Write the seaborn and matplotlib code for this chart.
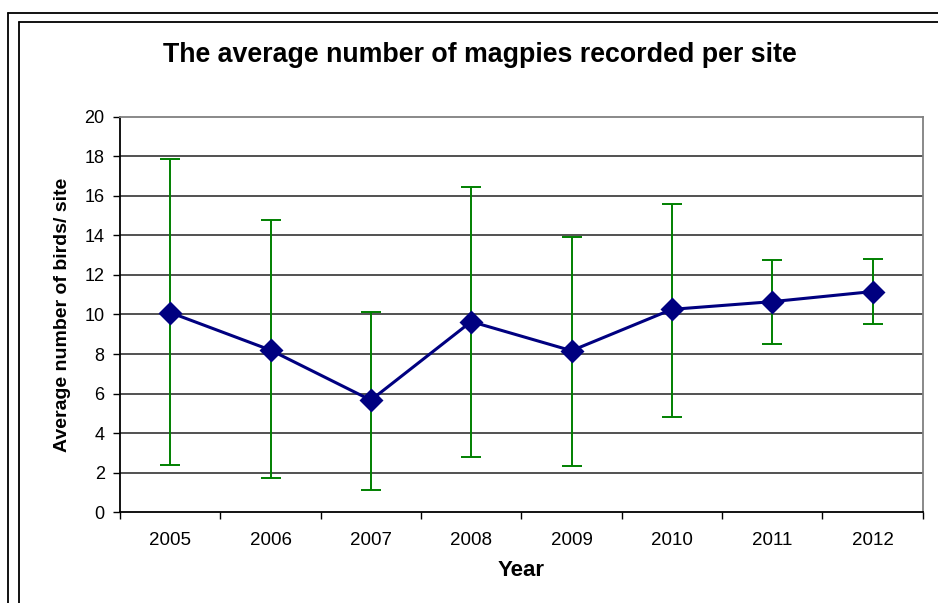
import numpy as np
import pandas as pd
import matplotlib
matplotlib.use("Agg")
import matplotlib.pyplot as plt
from matplotlib.lines import Line2D
import seaborn as sns

years = ["2005", "2006", "2007", "2008", "2009", "2010", "2011", "2012"]
means = [10.1, 8.2, 5.67, 9.64, 8.17, 10.26, 10.65, 11.16]
upper = [17.87, 14.78, 10.11, 16.44, 13.94, 15.61, 12.74, 12.81]
lower = [2.41, 1.74, 1.15, 2.80, 2.33, 4.83, 8.52, 9.50]
yticks = [0, 2, 4, 6, 8, 10, 12, 14, 16, 18, 20]

sns.set_style("white")
plt.rcParams['font.family'] = ['Liberation Sans', 'DejaVu Sans']
plt.rcParams['text.color'] = 'black'
plt.rcParams['axes.labelcolor'] = 'black'
plt.rcParams['xtick.color'] = 'black'
plt.rcParams['ytick.color'] = 'black'

fig = plt.figure(figsize=(9.38, 6.03), dpi=100)
ax = fig.add_axes([120/938, 1-512.3/603, (922.7-120)/938, (512.3-116.7)/603])

df = pd.DataFrame({"Year": years, "Mean": means})
xpos = np.arange(len(years))

err_lo = np.array(means) - np.array(lower)
err_hi = np.array(upper) - np.array(means)
ax.errorbar(xpos, means, yerr=[err_lo, err_hi], fmt='none', ecolor='#008000',
            elinewidth=1.4, capsize=7, capthick=1.4, zorder=3)

n_before = len(ax.lines)
sns.pointplot(data=df, x="Year", y="Mean", color="#000080", markers="D",
              linestyles="-", errorbar=None, ax=ax)
for ln in ax.lines[n_before:]:
    ln.set_linewidth(2.2)
    ln.set_zorder(5)
    ln.set_markersize(10)

ax.set_ylim(0, 20)
ax.set_xlim(-0.5, len(years) - 0.5)
ax.set_yticks(yticks)
ax.set_yticklabels([str(t) for t in yticks], fontsize=13)
ax.set_xticks(xpos)
ax.set_xticklabels(years, fontsize=13.5)
ax.set_xticks(np.arange(-0.5, len(years)), minor=True)
ax.tick_params(axis='x', which='major', length=0, pad=14)
ax.tick_params(axis='x', which='minor', length=5, width=1, color='black', direction='out', bottom=True)
ax.tick_params(axis='y', which='major', length=5, width=1, color='black', direction='out', pad=6, left=True)

for t in yticks[1:-1]:
    ax.axhline(t, color='#222222', lw=1.1, zorder=1)

ax.spines['left'].set_color('black')
ax.spines['bottom'].set_color('black')
ax.spines['top'].set_color('#808080')
ax.spines['right'].set_color('#808080')
for s in ax.spines.values():
    s.set_linewidth(1.3)
    s.set_visible(True)

ax.set_xlabel("Year", fontsize=16, fontweight='bold', labelpad=8)
ax.set_ylabel("Average number of birds/ site", fontsize=14, fontweight='bold', labelpad=10)

fig.text(480/938, 1-55/603, "The average number of magpies recorded per site",
         ha='center', va='center', fontsize=19.3, fontweight='bold')

# chart frame borders
fig.add_artist(Line2D([7.5/938, 7.5/938], [0, 1-12.5/603], transform=fig.transFigure, color='black', lw=1.3))
fig.add_artist(Line2D([7.5/938, 1], [1-12.5/603, 1-12.5/603], transform=fig.transFigure, color='black', lw=1.3))
fig.add_artist(Line2D([18.5/938, 18.5/938], [0, 1-21.5/603], transform=fig.transFigure, color='black', lw=1.3))
fig.add_artist(Line2D([18.5/938, 1], [1-21.5/603, 1-21.5/603], transform=fig.transFigure, color='black', lw=1.3))

fig.savefig("out.png", dpi=100)
